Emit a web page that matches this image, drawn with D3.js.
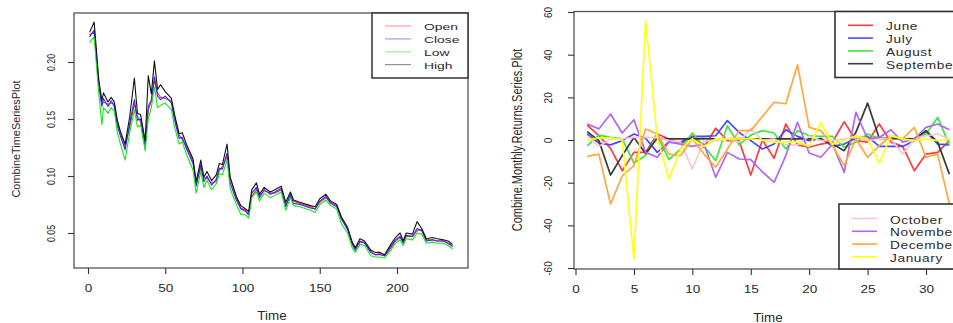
<!DOCTYPE html>
<html>
<head>
<meta charset="utf-8">
<script src="https://cdn.jsdelivr.net/npm/d3@7"></script>
<style>
  body { margin: 0; background: #fff; }
  svg text { font-family: "Liberation Sans", Arial, sans-serif; fill: #2a2a2a; }
</style>
</head>
<body>
<svg id="chart" width="953" height="323"></svg>
<script>
// ---- left panel: daily price series ----
const tsTime = [1,4,7,9,10,13,15,17,19,21,24,27,30,32,34,37,39,41,43,45,47,50,54,56,59,61,64,68,70,73,75,77,80,83,85,87,90,92,96,99,102,104,106,109,111,114,118,121,125,128,131,133,137,144,147,150,154,157,161,164,168,171,173,176,179,183,186,189,192,196,199,202,204,206,210,213,216,219,223,226,230,233,236];
const tsOpen = [.224,.226,.182,.163,.165,.163,.164,.163,.147,.137, .126,.143,.163,.152,.148,.129,.158,.165,.184,.173, .169,.168,.166,.152,.136,.132,.125,.113,.094,.107, .098,.098,.094,.095,.105,.108,.117,.098,.081,.072, .070,.067,.082,.088,.083,.087,.085,.085,.088,.075, .082,.078,.076,.073,.071,.077,.081,.077,.074,.064, .054,.042,.036,.042,.042,.034,.031,.032,.030,.037, .043,.046,.043,.047,.047,.052,.053,.044,.044,.043, .043,.041,.039];
const tsClose = [.222,.228,.179,.161,.168,.161,.166,.161,.144,.135, .123,.146,.167,.149,.150,.126,.161,.167,.187,.170, .167,.170,.164,.149,.133,.134,.123,.111,.091,.110, .095,.100,.092,.097,.107,.106,.120,.094,.079,.071, .069,.066,.085,.090,.081,.088,.084,.086,.089,.073, .084,.076,.075,.072,.071,.078,.082,.076,.073,.062, .053,.040,.035,.043,.041,.033,.031,.031,.030,.038, .044,.047,.041,.048,.047,.054,.052,.043,.044,.043, .043,.041,.038];
const tsLow = [.217,.222,.172,.145,.160,.155,.160,.157,.138,.128, .114,.138,.158,.143,.145,.122,.150,.160,.178,.160, .162,.164,.158,.143,.128,.130,.118,.105,.085,.104, .090,.096,.088,.093,.102,.101,.114,.089,.075,.066, .066,.063,.081,.086,.078,.085,.081,.083,.086,.070, .081,.074,.073,.070,.068,.075,.079,.074,.071,.058, .050,.037,.033,.040,.039,.030,.029,.029,.028,.035, .041,.044,.039,.045,.044,.050,.049,.041,.042,.041, .041,.039,.036];
const tsHigh = [.226,.235,.184,.166,.173,.165,.169,.165,.149,.139, .128,.152,.186,.155,.154,.131,.188,.172,.201,.176, .180,.174,.168,.154,.137,.138,.127,.115,.095,.114, .099,.104,.096,.101,.111,.110,.128,.099,.082,.074, .071,.069,.088,.094,.084,.090,.086,.088,.091,.077, .086,.079,.077,.074,.073,.080,.084,.078,.075,.064, .055,.042,.037,.045,.043,.035,.033,.033,.031,.040, .046,.050,.043,.050,.049,.060,.054,.045,.046,.045, .044,.043,.040];
const tsNames = ["Open", "Close", "Low", "High"];
const tsXTicks = [0, 50, 100, 150, 200];
const tsYTicks = [0.05, 0.10, 0.15, 0.20];

// ---- right panel: monthly returns ----
const monthDay = [1,2,3,4,5,6,7,8,9,10,11,12,13,14,15,16,17,18,19,20,21,22,23,24,25,26,27,28,29,30,31,32];
const june = [7,2,-3.9,-14.4,-5.8,-5.8,2.8,0.5,-1.9,1.7,-3.4,5.5,-0.3,-0.3,-16.4,0,-8.6,7.5,-2.3,-3.4,-1.9,-1,8.6,-0.3,-1,7.5,-1,-3,-14.4,-6.6,-5.8,-0.3];
const july = [2.8,-1.4,-2.3,-0.3,2.8,0.8,-5.8,-0.8,-1,1.7,1.7,2,9.1,3.6,-0.3,-4.2,-1.9,4.8,1.7,-0.3,0.8,-3,-1.9,0.8,1.7,-3,-3,-3,-0.3,3.9,-1.9,-2.3];
const august = [-2.7,2.3,1.2,0.5,-10.8,-7.3,2,-9.2,-4.2,3.3,-3,-9.7,6.7,-2.3,2.3,4.4,3.3,-4.2,4.4,2,1.7,1.7,-3.4,-1,2.8,0.8,0.8,0.5,0.8,2.8,10.6,-2.3];
const september = [3.9,-0.3,-16.4,-7.3,1.2,-6.3,0.8,0.5,0.5,0.5,0.6,0.5,0.5,0.6,0.5,0.5,0.5,0.5,0.5,0.5,0.4,-1.9,-5,3.6,17.3,0.8,0.8,0.5,0.5,4.4,-1,-16];
const october = [2,-3,0.5,0.5,1.2,1.2,1.2,-0.3,-1,-13.6,-0.3,-0.3,0.5,-1,5.5,-0.3,0.5,-2.3,-2.3,1.7,-0.3,-0.3,0.5,1.2,-0.3,0.8,0.5,-6.6,0.5,2,2.8,0.5];
const november = [7.5,5.2,12.2,3.3,9.5,-5.8,-8.1,-1,-1.9,-3,-1.9,-17.5,-5.8,-8.9,-9.2,-15,-19.9,-7.3,8.3,-6.1,-8.1,-1.9,-15.2,13,0.5,1.2,4.8,-1,0.5,5.9,7.5,4.8];
const december = [-7.7,-6.6,-30,-16.8,-12,5.2,2.8,-6.6,-7.3,0.5,-6.6,-12.8,-4.2,4.4,4.4,11,17.7,17,35.2,5.9,4.4,-2.7,-12,0.5,-8.1,-2.7,2,0.5,5.9,-8.1,-6.6,-30];
const january = [0,1,1,0,-55.8,56,1,-18.3,-4.2,0.5,-3,0.5,0.5,0.5,0.5,0,-1,-1,-1,-3,8.3,-2,0,2,0.5,-10.8,2,0.5,-0.3,0.5,-0.3,0.5];
const monthNames = ["June", "July", "August", "September", "October", "November", "December", "January"];
const mrXTicks = [0, 5, 10, 15, 20, 25, 30];
const mrYTicks = [-60, -40, -20, 0, 20, 40, 60];

const tsColors = ["#ff2a2a", "#2a2aff", "#19e619", "#111111"];
const mrColors = ["#ff3b3b", "#4848ff", "#3ee83e", "#3a3a3a", "#ffc4cf", "#b266f5", "#ffa83e", "#ffff1e"];

const svg = d3.select("#chart");

function hText(g, str, x, y, size, sx, anchor) {
  return g.append("text").text(str)
    .attr("font-size", size)
    .attr("text-anchor", anchor || "middle")
    .attr("transform", `translate(${x},${y}) scale(${sx},1)`);
}
function vText(g, str, x, y, size, sy) {
  return g.append("text").text(str)
    .attr("font-size", size)
    .attr("text-anchor", "middle")
    .attr("transform", `translate(${x},${y}) rotate(-90) scale(1,${sy})`);
}

function styleBottom(g, sx) {
  g.select(".domain").remove();
  g.selectAll(".tick line").attr("stroke", "#333").attr("stroke-width", 1.1);
  g.selectAll(".tick text").attr("y", null).attr("dy", null)
    .attr("font-size", 11.5).attr("fill", "#2a2a2a")
    .attr("transform", `translate(0,24) scale(${sx},1)`);
}
function styleLeft(g, off, size, sy) {
  g.select(".domain").remove();
  g.selectAll(".tick line").attr("stroke", "#333").attr("stroke-width", 1.1);
  g.selectAll(".tick text").attr("x", null).attr("dy", null)
    .attr("font-size", size).attr("fill", "#2a2a2a").attr("text-anchor", "middle")
    .attr("transform", `translate(${off},0) rotate(-90) scale(1,${sy})`);
}

// ======== left panel ========
const L = { left: 74, right: 468, top: 13, bottom: 268 };
const x1 = d3.scaleLinear().domain([0, 200]).range([88, 397]);
const y1 = d3.scaleLinear().domain([0.05, 0.20]).range([233, 62]);

const gL = svg.append("g");
const tsSeries = [tsOpen, tsClose, tsLow, tsHigh];
const line1 = d3.line().x((d, i) => x1(tsTime[i])).y(d => y1(d));
tsSeries.forEach((s, k) => {
  gL.append("path").datum(s).attr("d", line1)
    .attr("fill", "none").attr("stroke", tsColors[k]).attr("stroke-width", 1.1)
    .attr("stroke-linejoin", "round");
});

gL.append("rect").attr("x", L.left).attr("y", L.top)
  .attr("width", L.right - L.left).attr("height", L.bottom - L.top)
  .attr("fill", "none").attr("stroke", "#555").attr("stroke-width", 1.3);

const ax1 = gL.append("g").attr("transform", `translate(0,${L.bottom})`)
  .call(d3.axisBottom(x1).tickValues(tsXTicks).tickSize(6).tickFormat(d3.format("d")));
styleBottom(ax1, 1.18);
const ay1 = gL.append("g").attr("transform", `translate(${L.left},0)`)
  .call(d3.axisLeft(y1).tickValues(tsYTicks).tickSize(6).tickFormat(d3.format(".2f")));
styleLeft(ay1, -19, 8.8, 1.3);

hText(gL, "Time", 272, 319.5, 12, 1.12);
vText(gL, "CombineTimeSeriesPlot", 20, 139, 10.9, 1.0);

// legend
const lg1 = gL.append("g");
lg1.append("rect").attr("x", 372).attr("y", L.top).attr("width", L.right - 372).attr("height", 65)
  .attr("fill", "#fff").attr("stroke", "#333").attr("stroke-width", 1.5);
tsNames.forEach((n, k) => {
  const yy = 26 + k * 12.9;
  lg1.append("line").attr("x1", 385).attr("x2", 411).attr("y1", yy).attr("y2", yy)
    .attr("stroke", tsColors[k]).attr("stroke-width", 1).attr("opacity", 0.55);
  hText(lg1, n, 424, yy + 4.3, 9.6, 1.45, "start");
});

// ======== right panel ========
const R = { left: 574, right: 964, top: 11.5, bottom: 269 };
const x2 = d3.scaleLinear().domain([0, 30]).range([575.5, 926]);
const y2 = d3.scaleLinear().domain([-60, 60]).range([268, 12]);

const gR = svg.append("g");
const mrSeries = [june, july, august, september, october, november, december, january];
const line2 = d3.line().x((d, i) => x2(monthDay[i])).y(d => y2(d));
mrSeries.forEach((s, k) => {
  gR.append("path").datum(s).attr("d", line2)
    .attr("fill", "none").attr("stroke", mrColors[k]).attr("stroke-width", 1.7)
    .attr("stroke-linejoin", "round");
});

gR.append("rect").attr("x", R.left).attr("y", R.top)
  .attr("width", R.right - R.left).attr("height", R.bottom - R.top)
  .attr("fill", "none").attr("stroke", "#555").attr("stroke-width", 1.3);

const ax2 = gR.append("g").attr("transform", `translate(0,${R.bottom})`)
  .call(d3.axisBottom(x2).tickValues(mrXTicks).tickSize(6).tickFormat(d3.format("d")));
styleBottom(ax2, 1.18);
const ay2 = gR.append("g").attr("transform", `translate(${R.left},0)`)
  .call(d3.axisLeft(y2).tickValues(mrYTicks).tickSize(6).tickFormat(d => String(d)));
styleLeft(ay2, -22.5, 10, 1.18);

hText(gR, "Time", 768, 321.5, 12, 1.12);
vText(gR, "Combine.Monthly.Returns.Series.Plot", 521.5, 140, 11, 1.3);

// legends (two boxes, running off the right edge)
function monthLegend(x0, y0, h, lineY, names, cols) {
  const g = gR.append("g");
  g.append("rect").attr("x", x0).attr("y", y0).attr("width", 140).attr("height", h)
    .attr("fill", "#fff").attr("stroke", "#333").attr("stroke-width", 1.6);
  names.forEach((n, k) => {
    const yy = lineY + k * 12.8;
    g.append("line").attr("x1", x0 + 13).attr("x2", x0 + 38).attr("y1", yy).attr("y2", yy)
      .attr("stroke", cols[k]).attr("stroke-width", 1.6);
    hText(g, n, x0 + 51, yy + 5, 11.2, 1.22, "start").attr("letter-spacing", 0.5);
  });
}
monthLegend(835, 11.5, 66, 25.3, monthNames.slice(0, 4), mrColors.slice(0, 4));
monthLegend(839, 204, 65, 218.5, monthNames.slice(4), mrColors.slice(4));
</script>
</body>
</html>
